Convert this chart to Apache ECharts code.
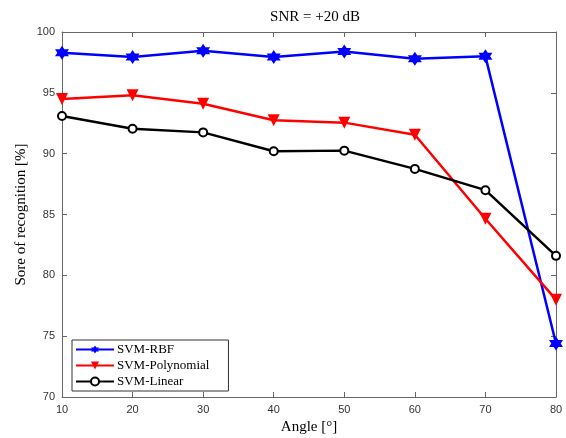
<!DOCTYPE html>
<html><head><meta charset="utf-8">
<script src="https://cdn.jsdelivr.net/npm/echarts@6/dist/echarts.min.js"></script>
<style>html,body{margin:0;padding:0;background:#fff}#c{width:566px;height:438px}</style>
</head><body><div id="c"></div>
<script>
var angles = [10, 20, 30, 40, 50, 60, 70, 80];
var rbf = [98.3, 97.95, 98.45, 97.95, 98.4, 97.8, 98.0, 74.4];
var poly = [94.5, 94.8, 94.1, 92.75, 92.55, 91.55, 84.65, 78.0];
var linear = [93.1, 92.05, 91.75, 90.2, 90.25, 88.75, 87.0, 81.6];
var yTicks = [70, 75, 80, 85, 90, 95, 100];

function pts(a){ return angles.map(function(x,i){return [x,a[i]];}); }
var hexagram = 'path://M0,-10 L2.9,-5 L8.66,-5 L5.8,0 L8.66,5 L2.9,5 L0,10 L-2.9,5 L-8.66,5 L-5.8,0 L-8.66,-5 L-2.9,-5 Z';
var frame = '#666';
var chart = echarts.init(document.getElementById('c'));
var xBase = {type:'value', min:10, max:80, interval:10,
  axisLine:{show:true, onZero:false, lineStyle:{color:frame, width:1}},
  axisTick:{show:true, inside:true, length:5, lineStyle:{color:frame}},
  splitLine:{show:false}};
var yBase = {type:'value', min:70, max:100, interval:5,
  axisLine:{show:true, onZero:false, lineStyle:{color:frame, width:1}},
  axisTick:{show:true, inside:true, length:5, lineStyle:{color:frame}},
  splitLine:{show:false}};
chart.setOption({
  animation:false,
  title:{text:'SNR = +20 dB', left:310, top:5, textAlign:'center',
    textStyle:{fontFamily:'Liberation Serif', fontSize:15, fontWeight:'normal', color:'#000'}},
  grid:{left:62, right:10, top:32, bottom:41, outerBoundsMode:'none', containLabel:false},
  xAxis:[
    Object.assign({}, xBase, {position:'bottom', name:'Angle [°]', nameLocation:'middle', nameGap:22,
      nameTextStyle:{fontFamily:'Liberation Serif', fontSize:15, color:'#000'},
      axisLabel:{fontFamily:'Liberation Sans', fontSize:11, color:'#333', margin:7}}),
    Object.assign({}, xBase, {position:'top', axisLabel:{show:false}})
  ],
  yAxis:[
    Object.assign({}, yBase, {position:'left', name:'Sore of recognition [%]', nameLocation:'middle', nameGap:33,
      nameMoveOverlap:false,
      nameTextStyle:{fontFamily:'Liberation Serif', fontSize:15, color:'#000'},
      axisLabel:{fontFamily:'Liberation Sans', fontSize:11, color:'#333', margin:7,
        formatter:function(v){return yTicks.indexOf(v)>=0?String(v):'';}}}),
    Object.assign({}, yBase, {position:'right', axisLabel:{show:false}})
  ],
  legend:{
    orient:'vertical', left:72, top:340, itemGap:3, itemWidth:38, itemHeight:10,
    padding:[3,19,3,3], borderColor:'#333', borderWidth:1, backgroundColor:'#fff',
    textStyle:{fontFamily:'Liberation Serif', fontSize:13, color:'#000', padding:[0,0,0,-2]},
    data:['SVM-RBF','SVM-Polynomial','SVM-Linear']
  },
  series:[
    {name:'SVM-RBF', type:'line', data:pts(rbf), symbol:hexagram, symbolSize:14,
      lineStyle:{color:'#0000ff', width:2.5}, itemStyle:{color:'#0000ff'}},
    {name:'SVM-Polynomial', type:'line', data:pts(poly), symbol:'triangle', symbolRotate:180, symbolSize:12,
      lineStyle:{color:'#ff0000', width:2.5}, itemStyle:{color:'#ff0000'}},
    {name:'SVM-Linear', type:'line', data:pts(linear), symbol:'circle', symbolSize:8,
      lineStyle:{color:'#000', width:2.5}, itemStyle:{color:'#fff', borderColor:'#000', borderWidth:2}}
  ]
});
</script></body></html>
